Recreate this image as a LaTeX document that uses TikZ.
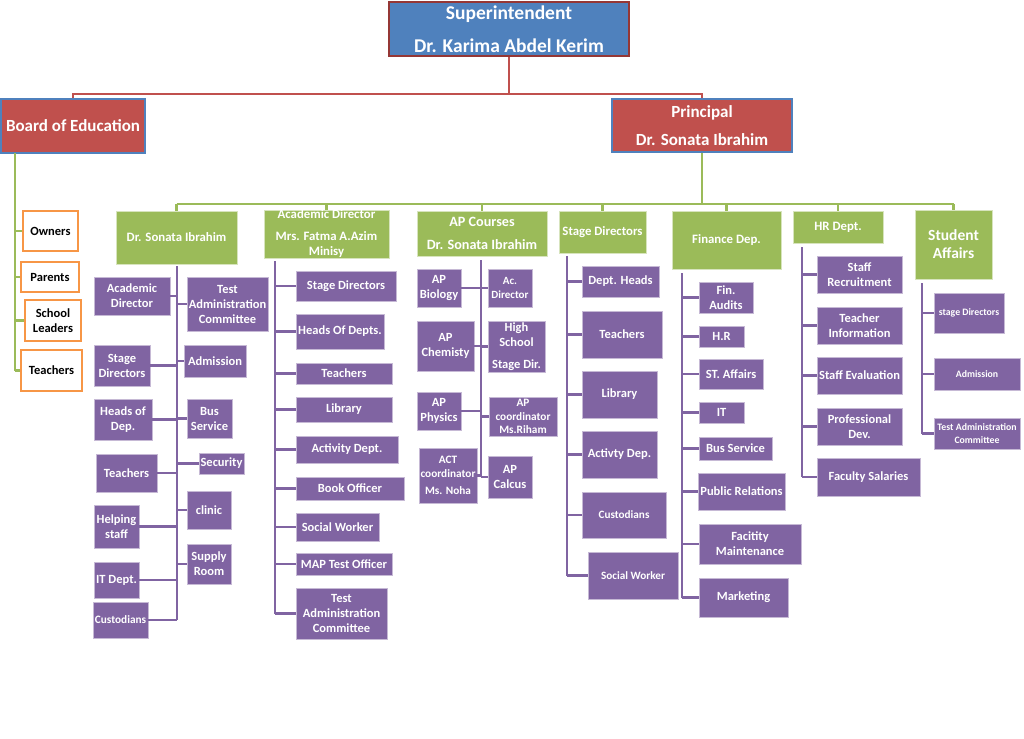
\documentclass[tikz,border=0pt]{standalone}
\usepackage{fontspec}
\setmainfont{Carlito}
\usetikzlibrary{positioning,calc}
\definecolor{supblue}{HTML}{4F81BD}
\definecolor{bordred}{HTML}{953735}
\definecolor{boardred}{HTML}{C0504D}
\definecolor{hdrgreen}{HTML}{9BBB59}
\definecolor{boxpurple}{HTML}{8064A2}
\definecolor{ownorange}{HTML}{F79646}

\begin{document}
\begin{tikzpicture}[
    x=1pt, y=-1pt,
    corners/.style n args={4}{minimum width={(#3-#1)*1pt}, minimum height={(#4-#2)*1pt}, at={({(#1+#3)/2},{(#2+#4)/2})}},
    topbox/.style={rectangle, fill=supblue, draw=bordred, line width=2.2pt, text=white, align=center, inner sep=0pt, font=\fontsize{19.5}{23}\selectfont\bfseries},
    redbox/.style={rectangle, fill=boardred, draw=supblue, line width=2pt, text=white, align=center, inner sep=0pt, font=\fontsize{17}{20}\selectfont\bfseries},
    orbox/.style={rectangle, fill=white, draw=ownorange, line width=2.2pt, align=center, inner sep=0pt, font=\fontsize{12.5}{15.5}\selectfont\bfseries},
    hdr/.style={rectangle, fill=hdrgreen, draw=hdrgreen!40!white, line width=0.6pt, text=white, align=center, inner sep=0pt, font=\fontsize{12.8}{15}\selectfont\bfseries},
    pbox/.style={rectangle, fill=boxpurple, draw=boxpurple!45!white, line width=0.6pt, text=white, align=center, inner sep=0pt},
    pline/.style={draw=boxpurple, line width=2.6pt},
    gline/.style={draw=hdrgreen, line width=2.6pt},
    rline/.style={draw=boardred, line width=2.4pt}
]
\path[use as bounding box, fill=white] (0,0) rectangle (1024,738);

% Top level
\node[topbox, corners={389}{2}{629}{56}] (sup) {Superintendent\\[10pt]Dr. Karima Abdel Kerim};
\node[redbox, corners={1}{99}{145}{153}] (board) {Board of Education};
\node[redbox, corners={612}{99}{792}{152}] (prin) {Principal\\[8pt]Dr. Sonata Ibrahim};

\coordinate (rbus) at (509,94);
\draw[rline] (sup.south) -- (rbus);
\draw[rline] (board.north) |- (rbus) -| (prin.north);

% Board of Education members
\node[orbox, corners={23}{211}{78}{251}] (own) {Owners};
\node[orbox, corners={21}{262}{79}{292}] (par) {Parents};
\node[orbox, corners={25}{300}{81}{341}] (sl) {School\\Leaders};
\node[orbox, corners={21}{350}{82}{391}] (tch) {Teachers};

\coordinate (bs) at (15,153);
\draw[gline] (bs) -- (bs |- tch.west);
\foreach \o in {own,par,sl,tch}
    \draw[gline] (bs |- \o.west) -- (\o.west);

% Department heads
\node[hdr, corners={116}{211}{237}{264}] (h1) {Dr. Sonata Ibrahim};
\node[hdr, corners={264}{210}{389}{258}] (h2) {Academic Director\\[7pt]Mrs. Fatma A.Azim\\Minisy};
\node[hdr, corners={417}{211}{547}{256}, font=\fontsize{14.2}{17}\selectfont\bfseries] (h3) {AP Courses\\[6pt]Dr. Sonata Ibrahim};
\node[hdr, corners={559}{211}{646}{253}] (h4) {Stage Directors};
\node[hdr, corners={672}{211}{781}{269}] (h5) {Finance Dep.};
\node[hdr, corners={793}{211}{883}{243}] (h6) {HR Dept.};
\node[hdr, corners={915}{210}{992}{279}, font=\fontsize{15.5}{18}\selectfont\bfseries] (h7) {Student\\Affairs};

\coordinate (gbus) at (702,204);
\draw[gline] (prin.south) -- (gbus);
\draw[gline] (h1.north |- gbus) -- (h7.north |- gbus);
\foreach \h in {h1,h2,h3,h4,h5,h6,h7}
    \draw[gline] (\h.north |- gbus) -- (\h.north);

% Spine tops
\coordinate (s1) at (177,266);
\coordinate (s2) at (275,261);
\coordinate (s3) at (481,260);
\coordinate (s4) at (567,256);
\coordinate (s5) at (682,273);
\coordinate (s6) at (802,247);
\coordinate (s7) at (922,283);

% Column 1: left side
\foreach \nm/\xa/\ya/\xb/\yb/\fs/\txt in {
    a1/94/277/170/315/12.5/{Academic\\Director},
    a2/94/345/150/386/12.5/{Stage\\Directors},
    a3/94/399/152/440/12.5/{Heads of\\Dep.},
    a4/96/454/157/492/12.5/{Teachers},
    a5/94/505/139/548/12.5/{Helping\\staff},
    a6/94/562/139/598/12.5/{IT Dept.},
    a7/93/602/148/638/11.3/{Custodians}} {
    \pgfmathsetmacro{\bs}{1.2*\fs}
    \node[pbox, corners={\xa}{\ya}{\xb}{\yb}, font=\fontsize{\fs}{\bs}\selectfont\bfseries] (\nm) {\txt};
    \draw[pline] (\nm.east) -- (\nm.east -| s1);
}
% Column 1: right side
\foreach \nm/\xa/\ya/\xb/\yb/\fs/\txt in {
    b1/187/277/268/331/12.5/{Test\\Administration\\Committee},
    b2/184/345/246/377/12.5/{Admission},
    b3/187/399/232/438/12.5/{Bus\\Service},
    b4/199/453/244/474/12.5/{Security},
    b5/187/491/231/529/12.5/{clinic},
    b6/187/544/231/584/12.5/{Supply\\Room}} {
    \pgfmathsetmacro{\bs}{1.2*\fs}
    \node[pbox, corners={\xa}{\ya}{\xb}{\yb}, font=\fontsize{\fs}{\bs}\selectfont\bfseries] (\nm) {\txt};
    \draw[pline] (\nm.west) -- (\nm.west -| s1);
}
\draw[pline] (s1) -- (s1 |- a7.east);

% Column 2
\foreach \nm/\xa/\ya/\xb/\yb/\fs/\txt in {
    c1/296/271/396/301/12.5/{Stage Directors},
    c2/296/314/384/349/12.5/{Heads Of Depts.},
    c3/296/363/392/384/12.5/{Teachers},
    c4/296/397/392/422/12.5/{Library},
    c5/296/436/398/463/12.5/{Activity Dept.},
    c6/296/477/404/500/12.5/{Book Officer},
    c7/296/513/379/541/12.5/{Social Worker},
    c8/296/553/392/575/12.5/{MAP Test Officer},
    c9/296/588/387/639/12.5/{Test\\Administration\\Committee}} {
    \pgfmathsetmacro{\bs}{1.2*\fs}
    \node[pbox, corners={\xa}{\ya}{\xb}{\yb}, font=\fontsize{\fs}{\bs}\selectfont\bfseries] (\nm) {\txt};
    \draw[pline] (\nm.west) -- (\nm.west -| s2);
}
\draw[pline] (s2) -- (s2 |- c9.west);

% Column 3: left side
\foreach \nm/\xa/\ya/\xb/\yb/\fs/\txt in {
    d1/417/269/461/307/12.5/{AP\\Biology},
    d2/417/321/474/371/12.5/{AP\\Chemisty},
    d3/417/392/461/430/12.5/{AP\\Physics},
    d4/419/448/477/503/11.3/{ACT\\coordinator\\[3pt]Ms. Noha}} {
    \pgfmathsetmacro{\bs}{1.25*\fs}
    \node[pbox, corners={\xa}{\ya}{\xb}{\yb}, font=\fontsize{\fs}{\bs}\selectfont\bfseries] (\nm) {\txt};
    \draw[pline] (\nm.east) -- (\nm.east -| s3);
}
% Column 3: right side
\foreach \nm/\xa/\ya/\xb/\yb/\fs/\txt in {
    e1/488/269/532/307/11/{Ac.\\Director},
    e2/488/321/545/372/12.5/{High\\School\\[6pt]Stage Dir.},
    e3/489/397/557/436/11.3/{AP\\coordinator\\Ms.Riham},
    e4/488/456/532/498/12.5/{AP\\Calcus}} {
    \pgfmathsetmacro{\bs}{1.22*\fs}
    \node[pbox, corners={\xa}{\ya}{\xb}{\yb}, font=\fontsize{\fs}{\bs}\selectfont\bfseries] (\nm) {\txt};
    \draw[pline] (\nm.west) -- (\nm.west -| s3);
}
\draw[pline] (s3) -- (s3 |- e4.west);

% Column 4
\foreach \nm/\xa/\ya/\xb/\yb/\fs/\txt in {
    f1/582/266/659/297/12.5/{Dept. Heads},
    f2/582/311/662/358/12.5/{Teachers},
    f3/582/371/657/418/12.5/{Library},
    f4/582/431/657/478/12.5/{Activty Dep.},
    f5/582/492/666/538/11.2/{Custodians},
    f6/588/552/678/599/11.2/{Social Worker}} {
    \pgfmathsetmacro{\bs}{1.2*\fs}
    \node[pbox, corners={\xa}{\ya}{\xb}{\yb}, font=\fontsize{\fs}{\bs}\selectfont\bfseries] (\nm) {\txt};
    \draw[pline] (\nm.west) -- (\nm.west -| s4);
}
\draw[pline] (s4) -- (s4 |- f6.west);

% Column 5
\foreach \nm/\xa/\ya/\xb/\yb/\fs/\txt in {
    g1/699/282/753/313/12.5/{Fin.\\Audits},
    g2/699/326/744/347/12.5/{H.R},
    g3/699/359/763/389/12.5/{ST. Affairs},
    g4/699/402/744/423/12.5/{IT},
    g5/699/437/772/460/12.5/{Bus Service},
    g6/698/473/785/510/12.5/{Public Relations},
    g7/699/524/801/564/12.5/{Facitity\\Maintenance},
    g8/699/578/788/617/12.5/{Marketing}} {
    \pgfmathsetmacro{\bs}{1.2*\fs}
    \node[pbox, corners={\xa}{\ya}{\xb}{\yb}, font=\fontsize{\fs}{\bs}\selectfont\bfseries] (\nm) {\txt};
    \draw[pline] (\nm.west) -- (\nm.west -| s5);
}
\draw[pline] (s5) -- (s5 |- g8.west);

% Column 6
\foreach \nm/\xa/\ya/\xb/\yb/\fs/\txt in {
    k1/817/256/902/293/12.5/{Staff\\Recruitment},
    k2/817/307/902/344/12.5/{Teacher\\Information},
    k3/817/357/902/394/12.5/{Staff Evaluation},
    k4/817/408/902/445/12.5/{Professional\\Dev.},
    k5/817/458/920/496/12.5/{Faculty Salaries}} {
    \pgfmathsetmacro{\bs}{1.2*\fs}
    \node[pbox, corners={\xa}{\ya}{\xb}{\yb}, font=\fontsize{\fs}{\bs}\selectfont\bfseries] (\nm) {\txt};
    \draw[pline] (\nm.west) -- (\nm.west -| s6);
}
\draw[pline] (s6) -- (s6 |- k5.west);

% Column 7
\foreach \nm/\xa/\ya/\xb/\yb/\fs/\txt in {
    m1/934/293/1004/333/9.8/{stage Directors},
    m2/934/358/1020/390/9.8/{Admission},
    m3/934/418/1020/449/9.8/{Test Administration\\Committee}} {
    \pgfmathsetmacro{\bs}{1.25*\fs}
    \node[pbox, corners={\xa}{\ya}{\xb}{\yb}, font=\fontsize{\fs}{\bs}\selectfont\bfseries] (\nm) {\txt};
    \draw[pline] (\nm.west) -- (\nm.west -| s7);
}
\draw[pline] (s7) -- (s7 |- m3.west);

\end{tikzpicture}
\end{document}
